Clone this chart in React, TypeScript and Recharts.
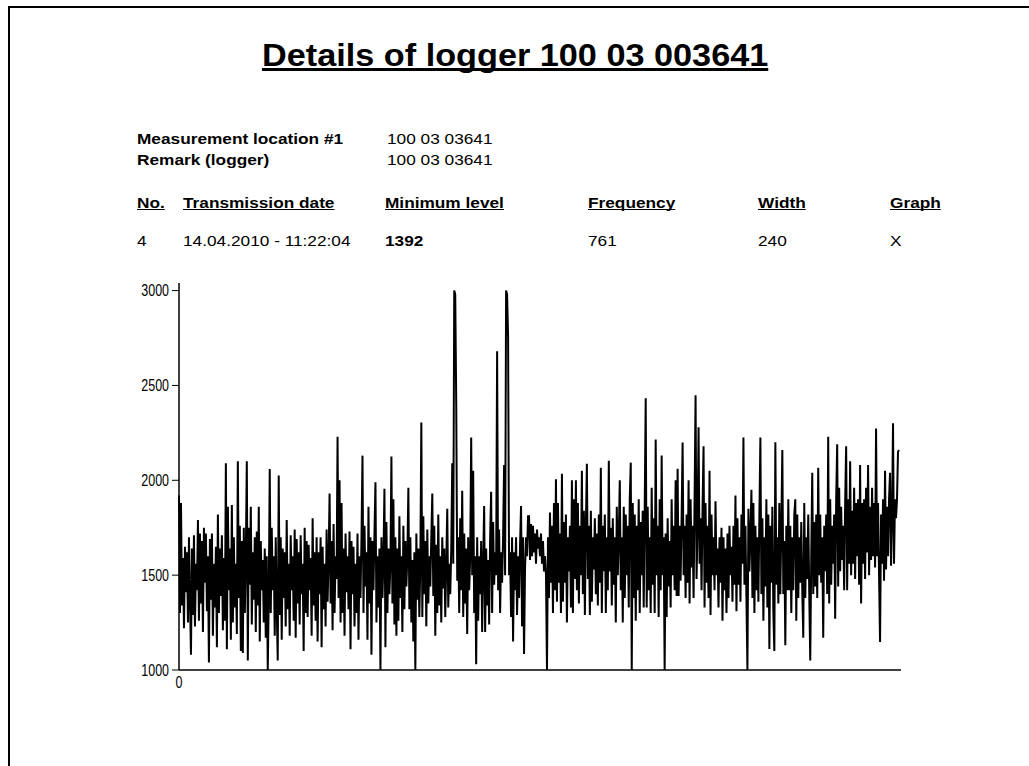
import React from 'react';
import { LineChart, Line, XAxis, YAxis } from 'recharts';

const title = 'Details of logger 100 03 003641';
const infoLabels = ['Measurement location #1', 'Remark (logger)'];
const infoValues = ['100 03 03641', '100 03 03641'];
const columns = ['No.', 'Transmission date', 'Minimum level', 'Frequency', 'Width', 'Graph'];
const rowValues = ['4', '14.04.2010 - 11:22:04', '1392', '761', '240', 'X'];

const yTicks = [1000, 1500, 2000, 2500, 3000];
const xTicks = [0];

// logger samples (about one sample per pixel)
const levels: number[] = [
  1920, 1300, 1880, 1340, 1590, 1220, 1650, 1410, 1620, 1250, 1700, 1380, 1080, 1640, 1290, 1710, 1230, 1560, 1420, 1790,
  1260, 1720, 1350, 1680, 1200, 1750, 1460, 1720, 1310, 1600, 1040, 1690, 1370, 1720, 1180, 1560, 1330, 1650, 1120, 1820,
  1300, 1640, 1390, 1710, 1210, 1590, 1260, 2090, 1110, 1860, 1420, 1640, 1160, 1870, 1250, 1700, 1330, 1560, 1190, 2100,
  1380, 1760, 1100, 1680, 1090, 1750, 1300, 1600, 2100, 1050, 1750, 1450, 1860, 1240, 1620, 1370, 1700, 1200, 1730, 1340,
  1860, 1150, 1680, 1420, 1580, 1250, 1640, 1170, 1600, 1000, 1380, 2060, 1300, 1750, 1420, 1600, 1180, 1700, 1330, 1050,
  2025, 1290, 1700, 1160, 1640, 1380, 1620, 1230, 1790, 1320, 1560, 1180, 1710, 1420, 1600, 1260, 1740, 1170, 1690, 1350,
  1620, 1240, 1710, 1400, 1560, 1100, 1750, 1300, 1680, 1280, 1660, 1420, 1590, 1180, 1800, 1340, 1620, 1260, 1700, 1150,
  1620, 1400, 1700, 1120, 1650, 1320, 1560, 1230, 1740, 1360, 1580, 1930, 1350, 1680, 1210, 1770, 1300, 1600, 1480, 2230,
  1380, 2000, 1250, 1880, 1300, 1640, 1180, 1720, 1410, 1600, 1320, 1730, 1110, 1680, 1400, 1650, 1230, 1560, 1300, 1720,
  1160, 1600, 1380, 1700, 2130, 1300, 1760, 1440, 1620, 1160, 1860, 1350, 1700, 1080, 1680, 1420, 1720, 1990, 1250, 1600,
  1330, 1640, 1000, 1700, 1380, 1580, 1955, 1120, 1780, 1300, 1640, 1400, 1560, 2125, 1350, 1900, 1240, 1700, 1180, 1640,
  1260, 1810, 1380, 1600, 1200, 1760, 1320, 1680, 1440, 1600, 1960, 1320, 1700, 1250, 1580, 1150, 1620, 1000, 1720, 1370,
  1640, 1280, 1560, 2305, 1280, 1810, 1400, 1680, 1230, 1740, 1350, 1600, 1440, 1700, 1930, 1390, 1760, 1180, 1660, 1300,
  1820, 1340, 1600, 1250, 1700, 1430, 1640, 1280, 1560, 1850, 1330, 1560, 1400, 1640, 2090, 1560, 3000, 2980, 2410, 1470,
  1700, 1300, 1800, 1420, 1945, 1280, 1720, 1350, 1640, 1190, 1700, 1420, 1600, 2225, 1500, 2050, 1300, 1600, 1030, 1700,
  1260, 1600, 1400, 1680, 1200, 1560, 1865, 1200, 1640, 1340, 1580, 1240, 1700, 1940, 1300, 1780, 1450, 1620, 1500, 2680,
  1420, 1740, 1300, 1620, 1460, 1700, 2080, 1500, 3000, 2980, 2756, 1500, 1620, 1280, 1700, 1150, 1620, 1420, 1700, 1290,
  1600, 1380, 1660, 1865, 1230, 1700, 1085, 1540, 1700, 1600, 1810, 1810, 1580, 1770, 1600, 1760, 1620, 1720, 1560, 1740,
  1640, 1700, 1600, 1720, 1560, 1680, 1520, 1600, 1500, 1000, 1700, 1380, 1830, 1460, 1760, 1300, 1880, 1420, 2006, 1360,
  1880, 1460, 1720, 1300, 2035, 1360, 1780, 1460, 1820, 1250, 1700, 1520, 1760, 1330, 2000, 1300, 1900, 1480, 2000, 1420,
  1880, 1350, 1760, 1500, 2050, 1400, 1840, 1290, 1760, 2087, 1480, 1760, 1290, 1840, 1360, 1700, 1530, 1800, 1400, 1720,
  1340, 1820, 1460, 2066, 1300, 1760, 1520, 1820, 1300, 1700, 1420, 2103, 1520, 1750, 1340, 1800, 1450, 1700, 1250, 1860,
  1500, 1700, 2000, 1420, 1700, 1250, 1860, 1380, 1820, 1500, 1760, 1330, 1900, 2093, 1000, 1880, 1380, 1820, 1260, 1760,
  1420, 1900, 1300, 1780, 1500, 1840, 1330, 1860, 2432, 1330, 1860, 1420, 1700, 1300, 1960, 1450, 1800, 1300, 2215, 1500,
  1760, 1280, 1900, 1420, 2130, 1500, 1700, 1000, 1720, 1280, 1800, 1440, 1680, 1330, 1900, 1500, 1760, 1420, 2000, 1390,
  2061, 1390, 1760, 1470, 1800, 2199, 1500, 1760, 1380, 1820, 1460, 2000, 1350, 1900, 1540, 1760, 1380, 1900, 2448, 1480,
  1760, 2280, 1560, 1800, 1420, 1860, 2180, 1330, 1880, 1460, 1760, 1380, 2050, 1290, 1820, 1500, 1700, 1420, 1890, 1500,
  1640, 1330, 1700, 1460, 1750, 1260, 1700, 1420, 1640, 1300, 1720, 1380, 1760, 1500, 1650, 1360, 1760, 1450, 1920, 1310,
  1800, 1450, 1700, 1360, 1820, 1560, 2225, 1450, 1760, 1380, 1000, 1850, 1520, 1700, 1950, 1380, 1880, 1300, 1760, 1420,
  1700, 1360, 1820, 2225, 1400, 1800, 1260, 1700, 1440, 1900, 1330, 1820, 1111, 1760, 1460, 1860, 1300, 1100, 2200, 1450,
  1700, 1350, 1880, 1400, 1760, 2160, 1400, 1680, 1130, 1760, 1420, 1900, 1420, 1760, 1300, 1700, 1420, 1820, 1900, 1260,
  1820, 1380, 1700, 1460, 1780, 1420, 1170, 1880, 1380, 1700, 1480, 1820, 1400, 1050, 1600, 2040, 1400, 1780, 1440, 1820,
  1380, 2066, 1500, 1820, 1460, 1700, 1170, 1760, 1520, 1820, 1400, 2230, 1350, 1900, 1450, 1760, 1560, 1820, 1270, 1900,
  2190, 1440, 1960, 1520, 1860, 1580, 1760, 1420, 1880, 2180, 1420, 1900, 1560, 2100, 1500, 1840, 1560, 1960, 1480, 1880,
  1600, 1900, 1450, 2080, 1350, 1880, 1560, 1900, 1480, 1960, 1620, 2080, 1500, 1860, 1580, 1960, 1600, 1880, 1540, 2273,
  1600, 1880, 1500, 1148, 1820, 1560, 1900, 1470, 2050, 1530, 1860, 1600, 1900, 2040, 1550, 1800, 2300, 1560, 1900, 1800,
  1900, 2150, 2160,
];

const colLeft = [137, 183, 385, 588, 758, 890];

const font = 'Arial, "Liberation Sans", sans-serif';

const txt = (top: number, left: number, size: number, bold: boolean, underline = false): React.CSSProperties => ({
  position: 'absolute',
  top,
  left,
  fontSize: size,
  lineHeight: 1,
  fontFamily: font,
  fontWeight: bold ? 700 : 400,
  textDecoration: underline ? 'underline' : 'none',
  textDecorationSkipInk: 'none',
  whiteSpace: 'nowrap',
  transform: 'scaleX(1.15)',
  transformOrigin: 'left top',
  color: '#000',
});

// narrow, tall digits like the original printout
const NarrowTick = (props: any) => {
  const { x, y, payload, anchor, dy } = props;
  return (
    <g transform={`translate(${x},${y}) scale(0.78,1)`}>
      <text x={0} y={0} dy={dy} textAnchor={anchor} fill="#000" fontSize={16} fontFamily={font}>
        {payload.value}
      </text>
    </g>
  );
};

export default function App() {
  const data = levels.map((v, i) => ({ i, v }));

  return (
    <div style={{ position: 'absolute', left: 0, top: 0, width: 1029, height: 766, background: '#fff', overflow: 'hidden' }}>
      <div style={{ position: 'absolute', left: 8, top: 6, width: 1100, height: 800, borderLeft: '2px solid #000', borderTop: '2px solid #000' }} />

      <div style={{ ...txt(39, 262, 32, true, true), transform: 'scaleX(1.07)' }}>{title}</div>

      {infoLabels.map((l, k) => (
        <div key={l} style={txt(131 + k * 21, 137, 15, true)}>{l}</div>
      ))}
      {infoValues.map((v, k) => (
        <div key={k} style={txt(131 + k * 21, 387, 15, false)}>{v}</div>
      ))}

      {columns.map((c, k) => (
        <div key={c} style={txt(195, colLeft[k], 15, true, true)}>{c}</div>
      ))}
      {rowValues.map((v, k) => (
        <div key={k} style={txt(233, colLeft[k], 15, k === 2)}>{v}</div>
      ))}

      <div style={{ position: 'absolute', left: 100, top: 270 }}>
        <LineChart width={820} height={430} data={data} margin={{ top: 13, right: 19, bottom: 5, left: 19 }}>
          <XAxis
            dataKey="i"
            type="number"
            domain={[0, 724]}
            ticks={xTicks}
            tickSize={0}
            tickMargin={7}
            height={25}
            axisLine={{ stroke: '#000', strokeWidth: 1.5 }}
            tick={<NarrowTick anchor="middle" dy="0.71em" />}
          />
          <YAxis
            type="number"
            domain={[1000, 3040]}
            ticks={yTicks}
            width={60}
            tickSize={7}
            tickMargin={3}
            axisLine={{ stroke: '#000', strokeWidth: 1.5 }}
            tickLine={{ stroke: '#000' }}
            tick={<NarrowTick anchor="end" dy="0.35em" />}
            allowDataOverflow
          />
          <Line dataKey="v" stroke="#000" strokeWidth={2} dot={false} isAnimationActive={false} />
        </LineChart>
      </div>
    </div>
  );
}
